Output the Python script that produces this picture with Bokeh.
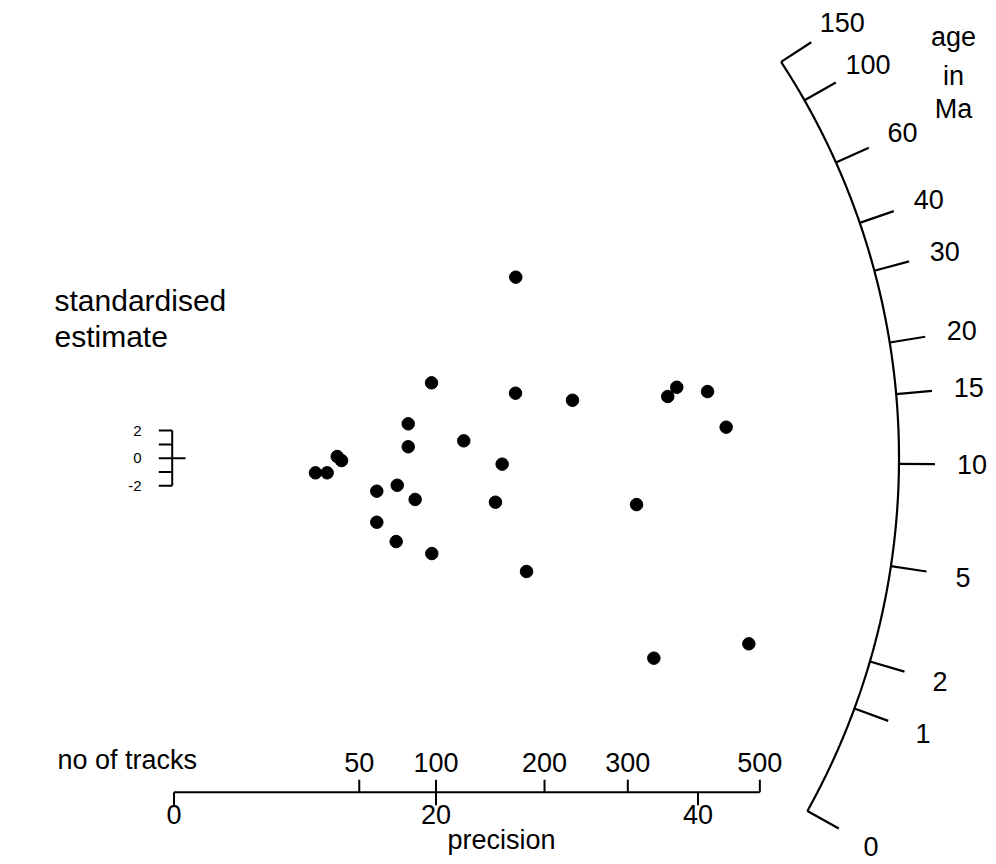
import numpy as np
from bokeh.plotting import figure
from bokeh.models import Range1d
from bokeh.core.properties import value
from bokeh.embed import file_html
from bokeh.resources import INLINE

# ---------------- data ----------------
precision = [26.09, 19.66, 26.07, 30.42, 38.38, 37.69, 40.73, 42.15, 17.88, 17.88,
             22.12, 25.05, 12.46, 12.79, 10.80, 11.69, 15.48, 17.04, 18.41, 24.54,
             35.31, 15.48, 16.96, 19.68, 26.91, 36.63, 43.88]
std_estimate = [13.12, 5.46, 4.71, 4.20, 5.14, 4.47, 4.83, 2.25, 2.49, 0.83,
                1.26, -0.43, 0.12, -0.17, -1.06, -1.06, -2.39, -1.96, -2.99, -3.19,
                -3.36, -4.64, -6.04, -6.91, -8.21, -14.49, -13.45]

age_ticks = [0, 1, 2, 5, 10, 15, 20, 30, 40, 60, 100, 150]
age_labels = ["0", "1", "2", "5", "10", "15", "20", "30", "40", "60", "100", "150"]
precision_ticks = [0, 20, 40]
precision_labels = ["0", "20", "40"]
track_ticks = [50, 100, 200, 300, 500]
track_labels = ["50", "100", "200", "300", "500"]
z_ticks = [-2, -1, 0, 1, 2]
z_labels_at = [2, 0, -2]
z_labels = ["2", "0", "-2"]

# arcsine transform parameters of the age scale
Z0 = 0.5288
C_AGE = 30.3

# ---------------- layout ----------------
W, H = 994, 862
SX, SY = 13.1, 13.8           # px per unit
OX, OY = 173.5, 457.7         # origin in canvas px
R_ARC = 725.0
TICK = 36.0
R_LAB = 798.0
FONT = value("Liberation Sans")
BIG = 27
SHIFT = 0.37 * BIG            # baseline correction


def ppx(dx):
    return dx / SX


def ppy(dy):
    return dy / SY


x0 = -OX / SX
y1 = OY / SY
p = figure(width=W, height=H, output_backend="svg", toolbar_location=None,
           x_range=Range1d(x0, x0 + W / SX), y_range=Range1d(y1 - H / SY, y1),
           x_axis_type=None, y_axis_type=None, min_border=0)
p.grid.visible = False
p.outline_line_color = None
p.background_fill_color = "white"
p.border_fill_color = "white"


def z_age(t):
    t = np.asarray(t, dtype=float)
    return np.arcsin(np.sqrt(t / (t + C_AGE)))


def phi_of(t):
    return np.arctan((z_age(t) - Z0) * SY / SX)


def polar(r_px, phi):
    return r_px * np.cos(phi) / SX, r_px * np.sin(phi) / SY


def txt(xs, ys, labels, size=BIG, align="center", baseline="alphabetic"):
    p.text(xs, ys, text=labels, text_font=FONT, text_font_size=f"{size}px",
           text_align=align, text_baseline=baseline, text_color="black")


# arc
phis = np.linspace(phi_of(age_ticks[0]), phi_of(age_ticks[-1]), 300)
ax_, ay_ = polar(R_ARC, phis)
p.line(ax_, ay_, line_color="black", line_width=2.2)

# age ticks + labels
tph = phi_of(age_ticks)
xi, yi = polar(R_ARC, tph)
xo, yo = polar(R_ARC + TICK, tph)
p.segment(xi, yi, xo, yo, line_color="black", line_width=2.2)
xl, yl = polar(R_LAB, tph)
txt(xl, yl, age_labels, baseline="middle")

# "age in Ma"
ax_lab = ppx(953 - OX)
txt([ax_lab] * 3, [ppy(OY - 46.7 + SHIFT), ppy(OY - 85 + SHIFT), ppy(OY - 118.3 + SHIFT)],
    ["age", "in", "Ma"])

# points
p.scatter(precision, std_estimate, size=12.5, color="black")

# precision axis
axis_y = ppy(OY - 791.7)
xmax = 2 * np.sqrt(track_ticks[-1])
p.line([0, xmax], [axis_y, axis_y], line_color="black", line_width=2)
p.segment(precision_ticks, [axis_y] * 3, precision_ticks, [axis_y - ppy(13)] * 3,
          line_color="black", line_width=2)
tx = [2 * np.sqrt(n) for n in track_ticks]
p.segment(tx, [axis_y] * len(tx), tx, [axis_y + ppy(12.5)] * len(tx),
          line_color="black", line_width=2)
txt(precision_ticks, [axis_y - ppy(823.5 - 791.7 - SHIFT)] * 3, precision_labels)
txt(tx, [axis_y + ppy(791.7 - 771.5 + SHIFT)] * len(tx), track_labels)
txt([ppx(501 - OX)], [axis_y - ppy(849.5 - 791.7 - SHIFT)], ["precision"])
txt([ppx(57 - OX)], [axis_y + ppy(791.7 - 769.3 + SHIFT)], ["no of tracks"], align="left")

# standardised estimate scale bar
bar_x = ppx(-1.8)
p.line([bar_x, bar_x], [z_ticks[0], z_ticks[-1]], line_color="black", line_width=2)
p.segment([bar_x - ppx(13.4)] * len(z_ticks), z_ticks, [bar_x] * len(z_ticks), z_ticks,
          line_color="black", line_width=2)
p.segment([bar_x], [0], [bar_x + ppx(13.3)], [0], line_color="black", line_width=2)
txt([bar_x - ppx(30.5)] * 3, z_labels_at, z_labels, size=15, align="right",
    baseline="middle")
s2 = 0.37 * 30
txt([ppx(54 - OX)] * 2, [ppy(OY - 310.7 + s2), ppy(OY - 346.7 + s2)],
    ["standardised", "estimate"], size=30, align="left")

open("out.html", "w").write(file_html(p, INLINE))
